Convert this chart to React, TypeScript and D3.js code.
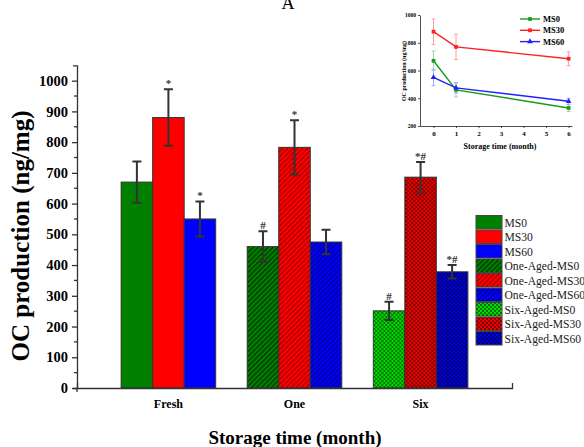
import { useEffect, useRef } from "react";
import * as d3 from "d3";

// main bar chart data
const categories = ["Fresh", "One", "Six"];
const groups = ["MS0", "MS30", "MS60"];
const freshValues = [670, 880, 550];
const freshErrors = [67, 92, 57];
const oneValues = [460, 783, 475];
const oneErrors = [50, 88, 40];
const sixValues = [251, 686, 378];
const sixErrors = [30, 49, 22];
const freshMarks = ["", "*", "*"];
const oneMarks = ["#", "*", ""];
const sixMarks = ["#", "*#", "*#"];
const yTicks = [0, 100, 200, 300, 400, 500, 600, 700, 800, 900, 1000];
const legendLabels = [
  "MS0", "MS30", "MS60",
  "One-Aged-MS0", "One-Aged-MS30", "One-Aged-MS60",
  "Six-Aged-MS0", "Six-Aged-MS30", "Six-Aged-MS60",
];

// inset line chart data
const insetMonths = [0, 1, 6];
const insetMS0 = [670, 460, 330];
const insetMS30 = [880, 770, 685];
const insetMS60 = [550, 475, 378];
const insetMS0Err = [70, 50, 25];
const insetMS30Err = [92, 92, 50];
const insetMS60Err = [60, 38, 22];
const insetYTicks = [200, 400, 600, 800, 1000];
const insetXTicks = [0, 1, 2, 3, 4, 5, 6];

const serif = "'Liberation Serif', 'Times New Roman', serif";

const App = () => {
  const svgRef = useRef<SVGSVGElement>(null);

  useEffect(() => {
    const w = 584;
    const h = 447;
    const svg = d3.select(svgRef.current).attr("width", w).attr("height", h);
    svg.selectAll("*").remove();

    // patterns ----------------------------------
    const defs = svg.append("defs");
    const hatch = (id: string, bg: string, fg: string) => {
      const p = defs.append("pattern").attr("id", id)
        .attr("patternUnits", "userSpaceOnUse")
        .attr("width", 3.5).attr("height", 3.5)
        .attr("patternTransform", "rotate(45)");
      p.append("rect").attr("width", 3.5).attr("height", 3.5).attr("fill", bg);
      p.append("line").attr("x1", 0.5).attr("y1", 0).attr("x2", 0.5).attr("y2", 3.5)
        .attr("stroke", fg).attr("stroke-width", 1.3);
    };
    const check = (id: string, bg: string, fg: string) => {
      const p = defs.append("pattern").attr("id", id)
        .attr("patternUnits", "userSpaceOnUse")
        .attr("width", 4).attr("height", 4);
      p.append("rect").attr("width", 4).attr("height", 4).attr("fill", bg);
      p.append("rect").attr("width", 2).attr("height", 2).attr("fill", fg);
      p.append("rect").attr("x", 2).attr("y", 2).attr("width", 2).attr("height", 2).attr("fill", fg);
    };
    hatch("h0", "#008000", "#003000");
    hatch("h1", "#ff0000", "#990000");
    hatch("h2", "#0000ff", "#00007a");
    check("c0", "#00e000", "#007000");
    check("c1", "#ee0000", "#800000");
    check("c2", "#0000e0", "#000070");
    const fills = [
      ["#008000", "#ff0000", "#0000ff"],
      ["url(#h0)", "url(#h1)", "url(#h2)"],
      ["url(#c0)", "url(#c1)", "url(#c2)"],
    ];

    // scales ------------------------------------
    const x0 = d3.scaleBand().domain(categories).range([77, 512])
      .paddingInner(0.25).paddingOuter(0.35);
    const x1 = d3.scaleBand().domain(groups).range([0, x0.bandwidth()]);
    const y = d3.scaleLinear().domain([0, 1050]).range([388, 65.3]);

    const rows = [
      { values: freshValues, errors: freshErrors, marks: freshMarks },
      { values: oneValues, errors: oneErrors, marks: oneMarks },
      { values: sixValues, errors: sixErrors, marks: sixMarks },
    ];

    // bars
    rows.forEach((r, ci) => {
      const g = svg.append("g").attr("transform", `translate(${x0(categories[ci])},0)`);
      groups.forEach((k, gi) => {
        const bx = x1(k)!;
        const bw = x1.bandwidth();
        g.append("rect")
          .attr("x", bx).attr("y", y(r.values[gi]))
          .attr("width", bw).attr("height", y(0) - y(r.values[gi]))
          .attr("fill", fills[ci][gi])
          .attr("stroke", "#333").attr("stroke-width", 1);
        const cx = bx + bw / 2;
        const top = y(r.values[gi] + r.errors[gi]);
        const bot = y(r.values[gi] - r.errors[gi]);
        g.append("path")
          .attr("d", `M${cx},${top}V${bot}M${cx - 4.5},${top}H${cx + 4.5}M${cx - 4.5},${bot}H${cx + 4.5}`)
          .attr("stroke", "#333").attr("stroke-width", 2).attr("fill", "none");
        if (r.marks[gi]) {
          g.append("text").attr("x", cx).attr("y", top - 2)
            .attr("text-anchor", "middle").attr("font-family", serif)
            .attr("font-size", 11).attr("font-weight", "bold").attr("fill", "#333")
            .text(r.marks[gi]);
        }
      });
    });

    // axes
    const yAxis = d3.axisLeft(y).tickValues(yTicks).tickFormat(d3.format("d"))
      .tickSize(5).tickSizeOuter(4).tickPadding(4);
    const yg = svg.append("g").attr("transform", "translate(77,0)").call(yAxis);
    yg.selectAll("text").attr("font-family", serif).attr("font-size", 14.5)
      .attr("font-weight", "bold").attr("fill", "#000");
    yg.selectAll("line,path").attr("stroke", "#333").attr("stroke-width", 1.3);
    yg.selectAll(".minor").data(d3.range(50, 1050, 100)).join("line")
      .attr("x1", -3).attr("x2", 0).attr("y1", (d) => y(d)).attr("y2", (d) => y(d))
      .attr("stroke", "#333").attr("stroke-width", 1.3);
    yg.append("line").attr("x1", 0).attr("x2", 0).attr("y1", y(0)).attr("y2", y(0) + 4)
      .attr("stroke", "#333").attr("stroke-width", 1.3);

    const xAxis = d3.axisBottom(x0).tickSize(0).tickSizeOuter(-5).tickPadding(11);
    const xg = svg.append("g").attr("transform", "translate(0,388)").call(xAxis);
    xg.selectAll("text").attr("font-family", serif).attr("font-size", 12)
      .attr("font-weight", "bold").attr("fill", "#000");
    xg.selectAll("path").attr("stroke", "#333").attr("stroke-width", 1.3);

    // titles
    svg.append("text").attr("x", 295).attr("y", 444).attr("text-anchor", "middle")
      .attr("font-family", serif).attr("font-size", 19).attr("font-weight", "bold")
      .text("Storage time (month)");
    svg.append("text").attr("transform", "translate(29,236) rotate(-90)")
      .attr("text-anchor", "middle").attr("font-family", serif).attr("font-size", 25)
      .attr("font-weight", "bold").text("OC production (ng/mg)");
    svg.append("text").attr("x", 288).attr("y", 9).attr("text-anchor", "middle")
      .attr("font-family", serif).attr("font-size", 18).text("A");

    // legend
    const lg = svg.append("g");
    legendLabels.forEach((lab, i) => {
      const ly = 215.5 + i * 14.5;
      lg.append("rect").attr("x", 476).attr("y", ly).attr("width", 26).attr("height", 13.5)
        .attr("fill", fills[Math.floor(i / 3)][i % 3]).attr("stroke", "#444").attr("stroke-width", 1);
      lg.append("text").attr("x", 504.5).attr("y", ly + 11).attr("font-family", serif)
        .attr("font-size", 11.6).attr("fill", "#222").text(lab);
    });

    // inset --------------------------------------
    const ix = d3.scaleLinear().domain([-0.6, 6.15]).range([420, 572]);
    const iy = d3.scaleLinear().domain([200, 1000]).range([126, 15]);
    const ig = svg.append("g");
    const iyAxis = d3.axisLeft(iy).tickValues(insetYTicks).tickFormat(d3.format("d"))
      .tickSize(2).tickSizeOuter(0).tickPadding(2);
    const iyg = ig.append("g").attr("transform", "translate(420,0)").call(iyAxis);
    iyg.selectAll("text").attr("font-family", serif).attr("font-size", 5.5).attr("font-weight", "bold").attr("fill", "#000");
    const ixAxis = d3.axisBottom(ix).tickValues(insetXTicks).tickSize(2).tickSizeOuter(0).tickPadding(3)
      .tickFormat(d3.format("d"));
    const ixg = ig.append("g").attr("transform", "translate(0,126)").call(ixAxis);
    ixg.selectAll("text").attr("font-family", serif).attr("font-size", 7).attr("font-weight", "bold").attr("fill", "#000");
    ig.selectAll("path,line").attr("stroke", "#222").attr("stroke-width", 0.8);

    ig.append("text").attr("x", 500).attr("y", 148.5).attr("text-anchor", "middle")
      .attr("font-family", serif).attr("font-size", 8).attr("font-weight", "bold")
      .text("Storage time (month)");
    ig.append("text").attr("transform", "translate(406,71) rotate(-90)").attr("text-anchor", "middle")
      .attr("font-family", serif).attr("font-size", 6).attr("font-weight", "bold")
      .text("OC production (ng/mg)");

    const insetSeries = [
      { name: "MS0", vals: insetMS0, errs: insetMS0Err, color: "#1a9a1a", pale: "#9fd89f", sym: d3.symbolSquare },
      { name: "MS30", vals: insetMS30, errs: insetMS30Err, color: "#ff2020", pale: "#ffa0a0", sym: d3.symbolSquare },
      { name: "MS60", vals: insetMS60, errs: insetMS60Err, color: "#2020ff", pale: "#a8a8ff", sym: d3.symbolTriangle },
    ];
    const line = d3.line<number>().x((d, i) => ix(insetMonths[i])).y((d) => iy(d));
    insetSeries.forEach((s) => {
      s.vals.forEach((v, i) => {
        const cx = ix(insetMonths[i]);
        const t = iy(v + s.errs[i]);
        const b = iy(v - s.errs[i]);
        ig.append("path")
          .attr("d", `M${cx},${t}V${b}M${cx - 2},${t}H${cx + 2}M${cx - 2},${b}H${cx + 2}`)
          .attr("stroke", s.pale).attr("stroke-width", 1).attr("fill", "none");
      });
    });
    insetSeries.forEach((s, si) => {
      ig.append("path").datum(s.vals).attr("d", line)
        .attr("fill", "none").attr("stroke", s.color).attr("stroke-width", 1.4);
      ig.selectAll(`.m${si}`).data(s.vals).join("path")
        .attr("transform", (d, i) => `translate(${ix(insetMonths[i])},${iy(d)})`)
        .attr("d", d3.symbol().type(s.sym).size(14)!)
        .attr("fill", s.color);
      const ly = 19 + si * 11.3;
      ig.append("line").attr("x1", 520).attr("x2", 540).attr("y1", ly).attr("y2", ly)
        .attr("stroke", s.color).attr("stroke-width", 1.4);
      ig.append("path").attr("transform", `translate(530,${ly})`)
        .attr("d", d3.symbol().type(s.sym).size(14)!).attr("fill", s.color);
      ig.append("text").attr("x", 543).attr("y", ly + 3).attr("font-family", serif)
        .attr("font-size", 8.5).attr("font-weight", "bold").text(s.name);
    });
  }, []);

  return (
    <div>
      <svg ref={svgRef} style={{ position: "absolute", left: 0, top: 0, display: "block" }}></svg>
    </div>
  );
};

export default App;
